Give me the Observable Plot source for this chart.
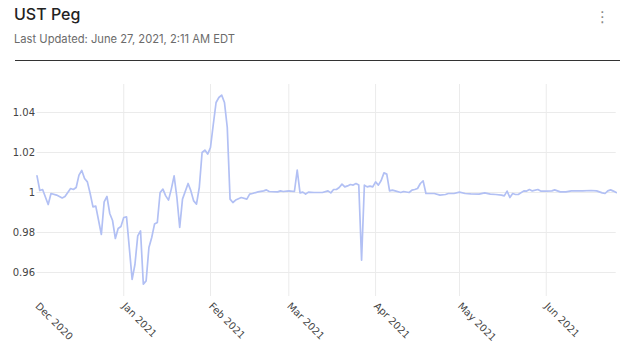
<!DOCTYPE html>
<html>
<head>
<meta charset="utf-8">
<script src="https://cdn.jsdelivr.net/npm/d3@7"></script>
<script src="https://cdn.jsdelivr.net/npm/@observablehq/plot@0.6"></script>
<style>
  html, body { margin: 0; padding: 0; background: #fff; }
  #wrap { position: relative; width: 630px; height: 351px; overflow: hidden; }
  #header { position: relative; width: 630px; height: 62px; }
  #title { position: absolute; left: 14px; top: 4px; font-family: Inter, sans-serif; font-size: 16px; line-height: 20px; color: #222; font-weight: 500; }
  #subtitle { position: absolute; left: 14px; top: 31px; font-family: Inter, sans-serif; font-size: 11.2px; line-height: 16px; color: #6b6b6b; }
  #menu { position: absolute; left: 595px; top: 7px; font-family: "DejaVu Sans", sans-serif; font-size: 15px; line-height: 20px; color: #888; }
  #rule { position: absolute; left: 15px; top: 60px; width: 605px; height: 0; border-top: 1px solid #333; }
  #chart svg { display: block; }
</style>
</head>
<body>
<div id="wrap">
  <div id="header">
    <div id="title">UST Peg</div>
    <div id="subtitle">Last Updated: June 27, 2021, 2:11 AM EDT</div>
    <div id="menu">⋮</div>
    <div id="rule"></div>
  </div>
  <div id="chart"></div>
</div>
<script>
const dates = [
  "2020-12-01","2020-12-02","2020-12-03","2020-12-05","2020-12-06","2020-12-08","2020-12-10","2020-12-11",
  "2020-12-13","2020-12-14","2020-12-15","2020-12-16","2020-12-17","2020-12-18","2020-12-19","2020-12-20",
  "2020-12-21","2020-12-22","2020-12-24","2020-12-25","2020-12-26","2020-12-27","2020-12-28","2020-12-29",
  "2020-12-30","2020-12-31",
  "2021-01-01","2021-01-02","2021-01-04","2021-01-05","2021-01-06","2021-01-07","2021-01-08","2021-01-09",
  "2021-01-10","2021-01-11","2021-01-12","2021-01-13","2021-01-14","2021-01-15","2021-01-16","2021-01-17",
  "2021-01-18","2021-01-19","2021-01-20","2021-01-21","2021-01-22","2021-01-24","2021-01-25","2021-01-26",
  "2021-01-27","2021-01-28","2021-01-29","2021-01-30","2021-01-31",
  "2021-02-01","2021-02-02","2021-02-03","2021-02-04","2021-02-05","2021-02-06","2021-02-07","2021-02-08",
  "2021-02-09","2021-02-10","2021-02-12","2021-02-14","2021-02-15","2021-02-16","2021-02-18","2021-02-20",
  "2021-02-21","2021-02-22","2021-02-25","2021-02-26","2021-02-27",
  "2021-03-01","2021-03-03","2021-03-04","2021-03-05","2021-03-06","2021-03-07","2021-03-08","2021-03-10",
  "2021-03-13","2021-03-15","2021-03-16","2021-03-17","2021-03-18","2021-03-19","2021-03-20","2021-03-21",
  "2021-03-22","2021-03-23","2021-03-24","2021-03-25","2021-03-26","2021-03-27","2021-03-28","2021-03-29",
  "2021-03-30","2021-03-31",
  "2021-04-01","2021-04-02","2021-04-03","2021-04-04","2021-04-05","2021-04-06","2021-04-07","2021-04-08",
  "2021-04-10","2021-04-11","2021-04-13","2021-04-14","2021-04-15","2021-04-16","2021-04-17","2021-04-18",
  "2021-04-19","2021-04-20","2021-04-22","2021-04-24","2021-04-26","2021-04-27","2021-04-29",
  "2021-05-01","2021-05-03","2021-05-05","2021-05-08","2021-05-10","2021-05-12","2021-05-14","2021-05-16",
  "2021-05-17","2021-05-18","2021-05-19","2021-05-20","2021-05-21","2021-05-22","2021-05-24","2021-05-25",
  "2021-05-26","2021-05-27","2021-05-29","2021-05-30",
  "2021-06-01","2021-06-03","2021-06-04","2021-06-06","2021-06-08","2021-06-10","2021-06-12","2021-06-14",
  "2021-06-17","2021-06-19","2021-06-21","2021-06-22","2021-06-23","2021-06-24","2021-06-25","2021-06-26"
];
const values = [
  1.0083,1.0010,1.0015,0.9940,0.9995,0.9987,0.9973,0.9980,
  1.0020,1.0015,1.0025,1.0087,1.0110,1.0070,1.0053,0.9995,
  0.9928,0.9932,0.9790,0.9953,0.9980,0.9895,0.9860,0.9770,
  0.9820,0.9830,
  0.9875,0.9878,0.9566,0.9640,0.9783,0.9808,0.9542,0.9558,
  0.9725,0.9775,0.9842,0.9850,1.0000,1.0017,0.9983,0.9962,
  1.0017,1.0083,0.9975,0.9825,0.9967,1.0045,1.0008,0.9958,
  0.9942,1.0025,1.0200,1.0212,1.0192,
  1.0225,1.0340,1.0450,1.0475,1.0487,1.0450,1.0325,0.9967,
  0.9950,0.9962,0.9975,0.9967,0.9992,0.9995,1.0003,1.0008,
  1.0013,1.0005,1.0003,1.0008,1.0005,
  1.0008,1.0005,1.0112,0.9998,1.0002,0.9992,1.0002,1.0000,
  1.0000,1.0008,0.9998,1.0015,1.0015,1.0025,1.0042,1.0028,
  1.0033,1.0040,1.0037,1.0045,1.0037,0.9662,1.0037,1.0028,
  1.0032,1.0028,
  1.0053,1.0037,1.0060,1.0098,1.0092,1.0008,1.0012,1.0008,
  1.0000,1.0005,1.0000,1.0012,1.0015,1.0020,1.0045,1.0058,
  0.9995,0.9995,0.9995,0.9987,0.9990,0.9995,0.9995,
  1.0002,0.9995,0.9993,0.9992,0.9998,0.9992,0.9990,0.9987,
  0.9983,1.0007,0.9975,0.9995,0.9990,0.9990,1.0008,1.0007,
  1.0015,1.0008,1.0015,1.0007,
  1.0007,1.0008,1.0013,1.0003,1.0003,1.0008,1.0008,1.0008,
  1.0010,1.0008,0.9998,0.9995,1.0008,1.0013,1.0007,1.0000
];
const yTicks = [0.96, 0.98, 1, 1.02, 1.04];
const xTickDates = ["2020-12-01","2021-01-01","2021-02-01","2021-03-01","2021-04-01","2021-05-01","2021-06-01"];
const xGridDates = ["2021-01-01","2021-02-01","2021-03-01","2021-04-01","2021-05-01","2021-06-01"];

const data = dates.map((d, i) => ({date: new Date(d), value: values[i]}));
const xTicks = xTickDates.map(d => new Date(d));
const xGrid = xGridDates.map(d => new Date(d));

const chart = Plot.plot({
  width: 630,
  height: 289,
  marginTop: 22,
  marginBottom: 55,
  marginLeft: 36.5,
  marginRight: 14.3,
  style: {fontFamily: "DejaVu Sans, sans-serif", fontSize: "10px", color: "#444", background: "#fff", overflow: "visible"},
  x: {type: "utc", domain: [new Date("2020-12-01"), new Date("2021-06-26")], label: null},
  y: {domain: [0.948, 1.054], label: null},
  marks: [
    Plot.ruleY(yTicks, {stroke: "#ebebeb", strokeWidth: 1}),
    Plot.ruleX(xGrid, {stroke: "#ebebeb", strokeWidth: 1}),
    Plot.line(data, {x: "date", y: "value", stroke: "#b2c0f4", strokeWidth: 1.7, curve: "linear"}),
    Plot.axisY(yTicks, {tickSize: 0, tickPadding: 2, label: null, tickFormat: d => d === 1 ? "1" : d.toFixed(2)}),
    Plot.axisX(xTicks, {tickSize: 0, tickPadding: 8, tickRotate: 45, label: null, tickFormat: d3.utcFormat("%b %Y")})
  ]
});
document.getElementById("chart").appendChild(chart);
</script>
</body>
</html>
